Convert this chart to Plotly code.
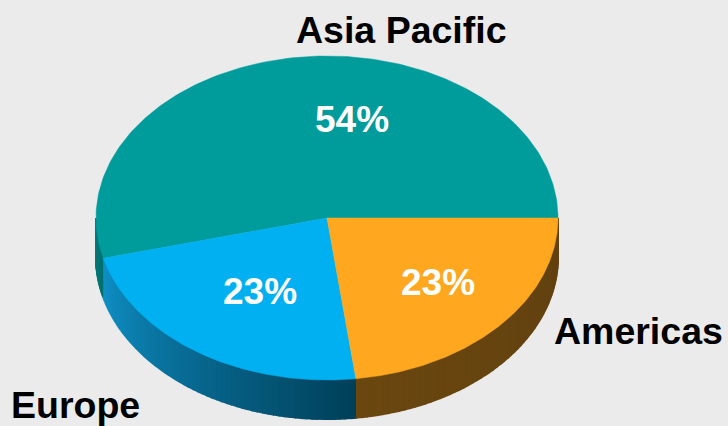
import numpy as np
import plotly.graph_objects as go

# ---- data ----
regions = ["Asia Pacific", "Europe", "Americas"]
shares = [54, 23, 23]
top_colors = ["#009b9b", "#00b0f0", "#ffa81f"]
side_colors = [("#00807f", "#00706f"), ("#0f90c6", "#003f58"), ("#6a470f", "#624110")]

# ---- geometry (pixel space) ----
W, H = 728, 426
CX, CY, A, B, DEPTH = 327, 218, 231, 162, 39

def ex(t):
    return CX + A * np.cos(t)

def ey(t):
    return CY - B * np.sin(t)

fig = go.Figure()

total = float(sum(shares))
bounds = []
start = 0.0
for v in shares:
    end = start + 2 * np.pi * v / total
    bounds.append((start, end))
    start = end

def hex_to_rgb(h):
    h = h.lstrip("#")
    return tuple(int(h[i:i + 2], 16) for i in (0, 2, 4))

def lerp(c1, c2, f):
    r1, r2 = hex_to_rgb(c1), hex_to_rgb(c2)
    return "rgb(%d,%d,%d)" % tuple(round(a + (b - a) * f) for a, b in zip(r1, r2))

# ---- sides (front half: angles pi..2pi) ----
for (s, e), (c1, c2) in zip(bounds, side_colors):
    lo, hi = max(s, np.pi), min(e, 2 * np.pi)
    if hi <= lo:
        continue
    nstrip = 60
    edges = np.linspace(lo, hi, nstrip + 1)
    for k in range(nstrip):
        t = np.linspace(edges[k], edges[k + 1], 6)
        xs = np.concatenate([ex(t), ex(t[::-1])])
        ys = np.concatenate([ey(t), ey(t[::-1]) + DEPTH])
        col = lerp(c1, c2, (k + 0.5) / nstrip)
        fig.add_trace(go.Scatter(x=xs, y=ys, mode="lines", fill="toself",
                                 fillcolor=col, line=dict(color=col, width=2),
                                 hoverinfo="skip", showlegend=False))

# ---- top faces ----
for (s, e), col, name in zip(bounds, top_colors, regions):
    t = np.linspace(s, e, 200)
    xs = np.concatenate([[CX], ex(t), [CX]])
    ys = np.concatenate([[CY], ey(t), [CY]])
    fig.add_trace(go.Scatter(x=xs, y=ys, mode="lines", fill="toself",
                             fillcolor=col, line=dict(color=col, width=0.5),
                             name=name, hoverinfo="name", showlegend=False))

# ---- labels ----
pct_pos = [(352, 119), (260, 291), (438, 282)]
name_pos = [(401, 30), (75, 405), (638, 331)]
FONT = "Liberation Sans, Arial"
annos = []
for v, (x, y) in zip(shares, pct_pos):
    annos.append(dict(x=x, y=y, text="<b>%d%%</b>" % v, showarrow=False,
                      font=dict(family=FONT, size=37, color="white"),
                      xanchor="center", yanchor="middle"))
for n, (x, y) in zip(regions, name_pos):
    annos.append(dict(x=x, y=y, text="<b>%s</b>" % n, showarrow=False,
                      font=dict(family=FONT, size=37.5, color="black"),
                      xanchor="center", yanchor="middle"))

fig.update_layout(
    width=W, height=H, margin=dict(l=0, r=0, t=0, b=0),
    paper_bgcolor="#ebebeb", plot_bgcolor="#ebebeb",
    xaxis=dict(range=[0, W], visible=False, fixedrange=True),
    yaxis=dict(range=[H, 0], visible=False, fixedrange=True),
    annotations=annos,
)
fig.write_html("out.html")
